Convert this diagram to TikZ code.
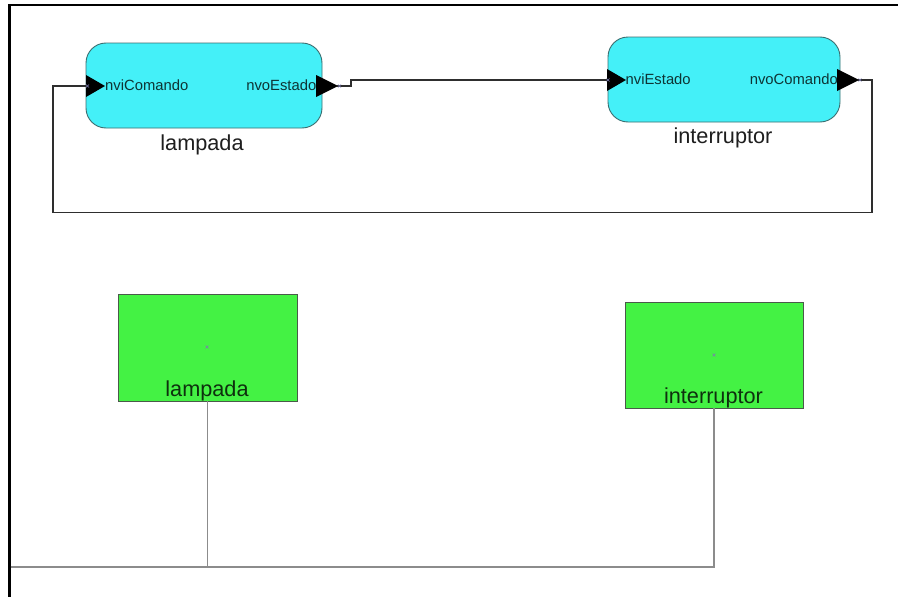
\documentclass[tikz,border=0pt]{standalone}
\usepackage{fontspec}
\setmainfont{Liberation Sans}
\begin{document}
\begin{tikzpicture}[x=1pt,y=-1pt,
  block/.style={draw=blockedge,fill=blockfill,rounded corners=20pt,line width=0.9pt,inner sep=0pt},
  unitbox/.style={draw=unitedge,fill=unitfill,line width=0.9pt,inner sep=0pt},
  portlbl/.style={inner sep=0pt,text=porttext,font=\fontsize{14.8}{17}\selectfont},
  namelbl/.style={inner sep=0pt,text=nametext,font=\fontsize{21.7}{26}\selectfont,anchor=base},
  unitlbl/.style={inner sep=0pt,text=unittext,font=\fontsize{21.7}{26}\selectfont,anchor=base},
  portarrow/.style={fill=black},
  wire/.style={draw=wirecol,line width=1.8pt},
  bus/.style={draw=buscol,line width=1.2pt},
  tick/.style={draw=tickcol,line width=0.5pt}]
\definecolor{blockfill}{HTML}{44F0F8}
\definecolor{blockedge}{HTML}{3C6E70}
\definecolor{unitfill}{HTML}{44F244}
\definecolor{unitedge}{HTML}{4A5A4A}
\definecolor{porttext}{HTML}{0E3434}
\definecolor{nametext}{HTML}{1E1E1E}
\definecolor{unittext}{HTML}{0E300E}
\definecolor{wirecol}{HTML}{2E2E2E}
\definecolor{buscol}{HTML}{8C8C8C}
\definecolor{tickcol}{HTML}{7C7CB0}

\useasboundingbox (0,0) rectangle (898,597);
\fill[white] (0,0) rectangle (898,597);

% outer frame: left and top bars
\fill[black] (8.2,3.7) rectangle (10.8,597);
\fill[black] (8.2,3.7) rectangle (898,6.3);

% functional blocks
\node[block,minimum width=236pt,minimum height=85pt] (lamp) at (204,85.5) {};
\node[block,minimum width=232pt,minimum height=85pt] (intr) at (724,79.5) {};

% port coordinates
\coordinate (lampIn)  at (87,86);
\coordinate (lampOut) at (337,86);
\coordinate (intIn)   at (608,80);
\coordinate (intOut)  at (858,80);

% port arrows
\path[portarrow] (86,75) -- (105,86) -- (86,97) -- cycle;
\path[portarrow] (316,75) -- (338,86) -- (316,97) -- cycle;
\path[portarrow] (607,69) -- (626,80) -- (607,91) -- cycle;
\path[portarrow] (837,69) -- (859,80) -- (837,91) -- cycle;

% port labels
\node[portlbl,anchor=base west] (lampInL) at (105,90) {nviComando};
\node[portlbl,anchor=base east] (lampOutL) at (316.5,90) {nvoEstado};
\node[portlbl,anchor=base west] (intInL) at (625.5,84.5) {nviEstado};
\node[portlbl,anchor=base east] (intOutL) at (838,84.5) {nvoComando};

% block names
\node[namelbl] (lampN) at (202,150) {lampada};
\node[namelbl] (intrN) at (723,143) {interruptor};

% connections between blocks
\draw[wire] (lampOut) -- (351,86) -- (351,80) -- (intIn);
\draw[wire] (intOut) -- (872,80) -- (872,212.5) -- (53,212.5) -- (53,86) -- (lampIn);

% tiny port markers
\draw[tick] (86,84.5) -- (89,87.5) (86,87.5) -- (89,84.5);
\draw[tick] (338,84.5) -- (341,87.5) (338,87.5) -- (341,84.5);
\draw[tick] (606.5,78.5) -- (609.5,81.5) (606.5,81.5) -- (609.5,78.5);
\draw[tick] (858.5,78.5) -- (861.5,81.5) (858.5,81.5) -- (861.5,78.5);

% device units
\node[unitbox,minimum width=179pt,minimum height=107pt] (lgreen) at (207.5,347.5) {};
\node[unitbox,minimum width=178pt,minimum height=106pt] (igreen) at (714,355) {};
\draw[tick] (205.5,345.5) -- (208.5,348.5) (205.5,348.5) -- (208.5,345.5);
\draw[tick] (712.5,353.5) -- (715.5,356.5) (712.5,356.5) -- (715.5,353.5);
\node[unitlbl] (lgreenN) at (207,396) {lampada};
\node[unitlbl] (igreenN) at (713.5,403) {interruptor};

% network bus
\coordinate (busL) at (10.5,567);
\draw[bus] (lgreen.south) -- (lgreen.south |- busL);
\draw[bus] (busL) -- (igreen.south |- busL) -- (igreen.south);
\end{tikzpicture}
\end{document}
